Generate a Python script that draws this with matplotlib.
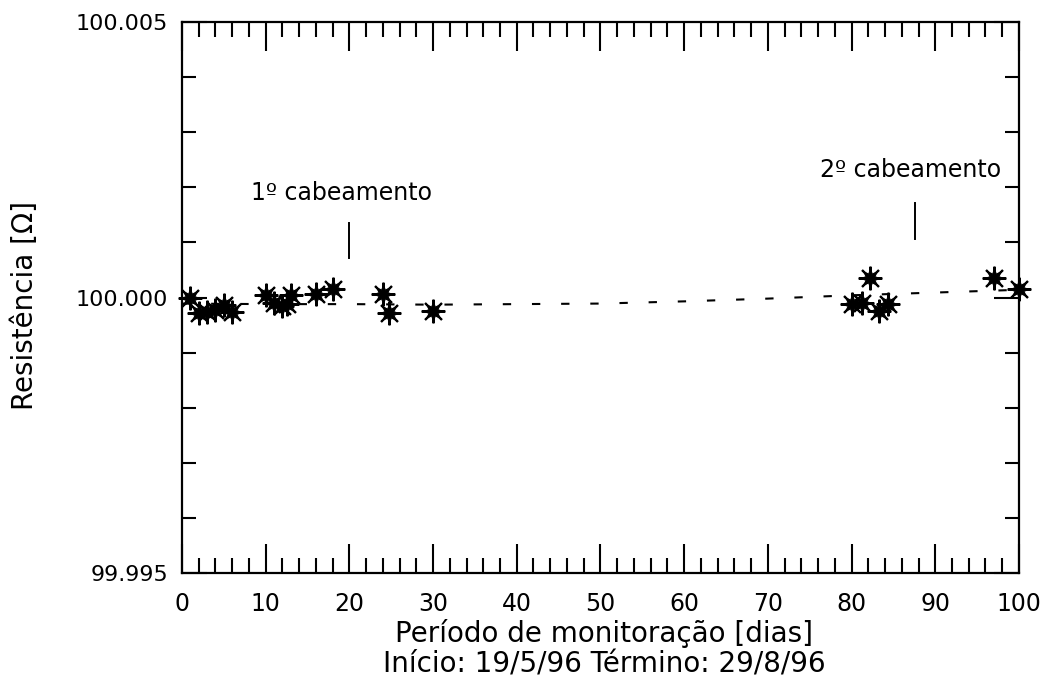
import matplotlib
matplotlib.use("Agg")
import matplotlib.pyplot as plt
from matplotlib.ticker import MultipleLocator, FixedLocator, FormatStrFormatter

# Data
days = [1, 2, 3, 4, 5, 6,
        10, 11, 12, 12.6, 13,
        16, 18, 24, 24.7, 30,
        80, 81.2, 82.2, 83.3, 84.4,
        97, 100]
resist = [100.00000, 99.99971, 99.99974, 99.99977, 99.99986, 99.99973,
          100.00005, 99.99990, 99.99984, 99.99988, 100.00005,
          100.00007, 100.00016, 100.00007, 99.99971, 99.99976,
          99.99989, 99.99990, 100.00036, 99.99975, 99.99989,
          100.00036, 100.00016]
err = 0.00015

trend_days = [0, 10, 20, 30, 40, 50, 60, 70, 80, 90, 100]
trend_vals = [99.99989, 99.99988, 99.99988, 99.99987, 99.99988, 99.99989,
              99.99993, 99.99998, 100.00004, 100.00009, 100.00014]

annot_text = ["1º cabeamento", "2º cabeamento"]
annot_x = [20, 87.6]
annot_text_x = [19.1, 87.0]
annot_text_y = [100.00189, 100.00231]
annot_line_y = [(100.00071, 100.00136), (100.00107, 100.00171)]

plt.rcParams['font.family'] = ['DejaVu Sans']
fig = plt.figure(figsize=(10.44, 6.84), dpi=100)
ax = fig.add_axes([0.1743, 0.1623, 0.8017, 0.8055])

ln, = ax.plot(trend_days, trend_vals, color='black', lw=1.5, zorder=2)
ln.set_dashes((4.0, 10.0))

ax.errorbar(days, resist, yerr=err, fmt='none', ecolor='black', elinewidth=1.3,
            capsize=0, zorder=3)
ax.plot(days, resist, linestyle='none', marker=(8, 1, 0), markersize=13,
        color='black', zorder=4, clip_on=False)
ax.plot(days, resist, linestyle='none', marker=(8, 2, 0), markersize=17,
        markeredgecolor='black', markeredgewidth=1.5, zorder=4, clip_on=False)

for t, xv, tx, ty, (y0, y1) in zip(annot_text, annot_x, annot_text_x,
                                    annot_text_y, annot_line_y):
    ax.plot([xv, xv], [y0, y1], color='black', lw=1.4)
    ax.text(tx, ty, t, ha='center', va='center', fontsize=17)

ax.set_xlim(0, 100)
ax.set_ylim(99.995, 100.005)
ax.xaxis.set_major_locator(MultipleLocator(10))
ax.xaxis.set_minor_locator(MultipleLocator(2))
ax.yaxis.set_major_locator(FixedLocator([99.995, 100.000, 100.005]))
ax.yaxis.set_minor_locator(MultipleLocator(0.001))
ax.yaxis.set_major_formatter(FormatStrFormatter('%.3f'))

ax.tick_params(which='both', direction='in', top=True, right=True,
               width=1.5, color='black')
ax.tick_params(axis='x', which='major', length=21, pad=14, labelsize=17)
ax.tick_params(axis='x', which='minor', length=11)
ax.tick_params(axis='y', which='major', length=18, pad=10, labelsize=16)
ax.tick_params(axis='y', which='minor', length=10)
for s in ax.spines.values():
    s.set_linewidth(1.6)

fig.text(0.5785, 0.0745, "Período de monitoração [dias]", ha='center',
         va='center', fontsize=20)
fig.text(0.5785, 0.0292, "Início: 19/5/96 Término: 29/8/96", ha='center',
         va='center', fontsize=20)
fig.text(0.024, 0.553, "Resistência [Ω]", rotation=90, ha='center',
         va='center', fontsize=20)

fig.savefig("out.png", dpi=100, facecolor='white')
